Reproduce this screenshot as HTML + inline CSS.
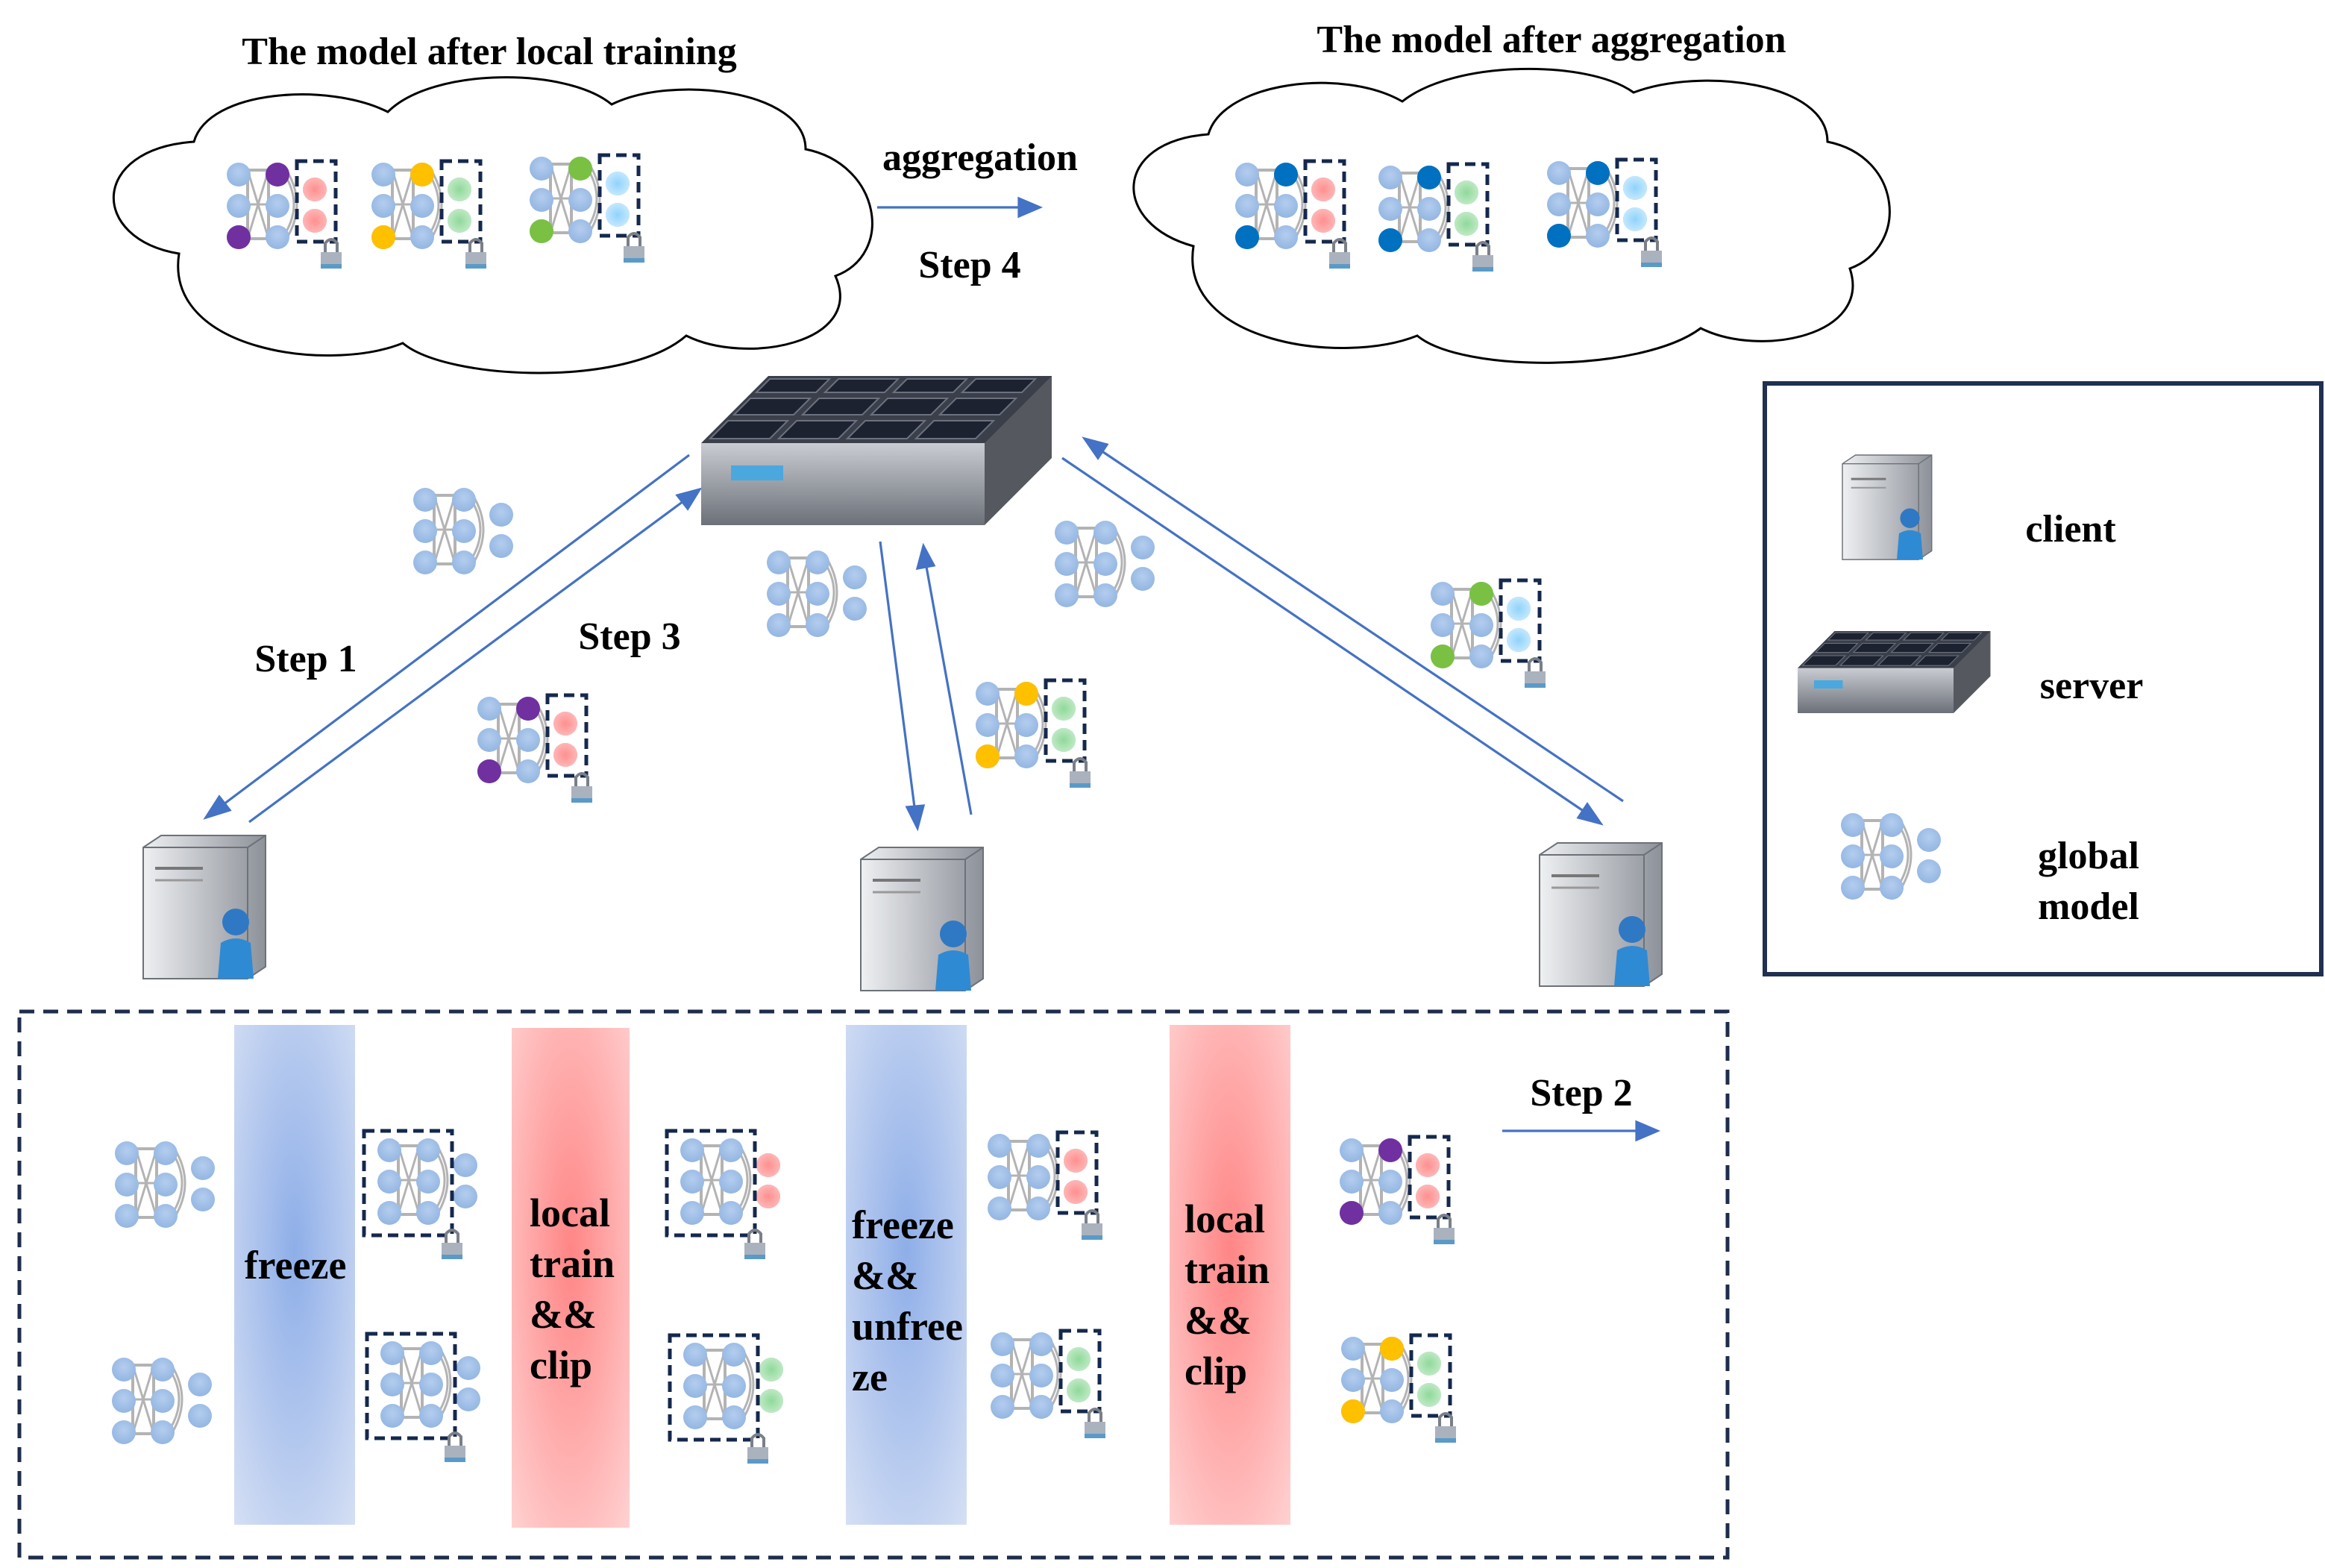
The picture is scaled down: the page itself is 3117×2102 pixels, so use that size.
<!DOCTYPE html>
<html><head><meta charset="utf-8"><style>
html,body{margin:0;padding:0;background:#fff}
svg{display:block}
text{font-family:"Liberation Serif","Times New Roman","DejaVu Serif",serif;font-weight:bold;fill:#000}
</style></head><body>
<svg width="3117" height="2102" viewBox="0 0 1558.5 1051" xmlns="http://www.w3.org/2000/svg">
<defs>
<radialGradient id="nd" cx="50%" cy="40%" r="60%"><stop offset="0" stop-color="#b4cdee"/><stop offset="1" stop-color="#93b6e2"/></radialGradient>
<radialGradient id="pk"><stop offset="0" stop-color="#ff8f8f"/><stop offset="1" stop-color="#ffb6b6"/></radialGradient>
<radialGradient id="gr"><stop offset="0" stop-color="#8fd99a"/><stop offset="1" stop-color="#bfe9c4"/></radialGradient>
<radialGradient id="lb"><stop offset="0" stop-color="#8fd3fb"/><stop offset="1" stop-color="#c4e8fd"/></radialGradient>
<radialGradient id="barB" cx="50%" cy="45%" r="75%"><stop offset="0" stop-color="#8eaee8"/><stop offset="1" stop-color="#d6e0f4"/></radialGradient>
<radialGradient id="barR" cx="50%" cy="45%" r="75%"><stop offset="0" stop-color="#ff8585"/><stop offset="1" stop-color="#ffd2d2"/></radialGradient>
<linearGradient id="srvF" x1="0" y1="0" x2="0" y2="1"><stop offset="0" stop-color="#c9ccd2"/><stop offset="1" stop-color="#6c7078"/></linearGradient>
<linearGradient id="cli" x1="0" y1="0" x2="1" y2="0"><stop offset="0" stop-color="#eef0f2"/><stop offset="1" stop-color="#8d9199"/></linearGradient>
<g id="net">
 <rect x="6" y="-3" width="14" height="46" fill="none" stroke="#b3b3b3" stroke-width="2"/>
 <path d="M6 -3 L20 43 M20 -3 L6 43 M6 20 H20" stroke="#b3b3b3" stroke-width="1.5" fill="none"/>
 <path d="M32 -3 Q46 20 32 43 M32 2 Q42 20 32 38" stroke="#b3b3b3" stroke-width="1.5" fill="none"/>
 <circle cx="0" cy="0" r="8" fill="url(#nd)"/><circle cx="0" cy="21" r="8" fill="url(#nd)"/><circle cx="0" cy="42" r="8" fill="url(#nd)"/>
 <circle cx="26" cy="0" r="8" fill="url(#nd)"/><circle cx="26" cy="21" r="8" fill="url(#nd)"/><circle cx="26" cy="42" r="8" fill="url(#nd)"/>
 <circle cx="51" cy="10" r="8" fill="url(#nd)"/><circle cx="51" cy="31" r="8" fill="url(#nd)"/>
</g>
<g id="lock"><path d="M-4 0 V-6 Q0 -11 4 -6 V0" fill="none" stroke="#7a7f88" stroke-width="2"/><rect x="-7" y="0" width="14" height="11" fill="#aab2bd"/><rect x="-7" y="8" width="14" height="3" fill="#5a9ac8"/></g>
<g id="boxC"><rect x="39" y="-9" width="26" height="54" fill="none" stroke="#15284d" stroke-width="2.5" stroke-dasharray="7,4"/><use href="#lock" x="62" y="52"/></g>
<g id="boxAB"><rect x="-17" y="-13" width="59" height="70" fill="none" stroke="#15284d" stroke-width="2.5" stroke-dasharray="7,4"/><use href="#lock" x="42" y="62"/></g>
<g id="client">
 <path d="M0 8 L12 0 H82 L82 88 L70 96 H0 Z" fill="url(#cli)" stroke="#6d7178"/>
 <path d="M0 8 H70 V96" fill="none" stroke="#6d7178"/>
 <path d="M70 8 L82 0" stroke="#6d7178"/>
 <line x1="8" y1="22" x2="40" y2="22" stroke="#777" stroke-width="2"/>
 <line x1="8" y1="30" x2="40" y2="30" stroke="#999" stroke-width="1.5"/>
 <circle cx="62" cy="58" r="9" fill="#2f78c4"/>
 <path d="M50 96 L52 72 Q62 66 72 72 L74 96 Z" fill="#2f8ad4"/>
</g>
<g id="server">
 <path d="M0 45 L45 0 H235 L235 40 L190 85 H0 Z" fill="#3a3f4a"/>
 <path d="M0 45 H190 V100 H0 Z" fill="url(#srvF)"/>
 <path d="M190 45 L235 0 V55 L190 100 Z" fill="#55595f"/>
 <rect x="20" y="60" width="35" height="10" fill="#4aa8de"/>
 <g fill="#1d2230" stroke="#6b7180" stroke-width="1">
  <path d="M6 42 L18 30 H58 L46 42 Z"/><path d="M52 42 L64 30 H104 L92 42 Z"/><path d="M98 42 L110 30 H150 L138 42 Z"/><path d="M144 42 L156 30 H196 L184 42 Z"/>
  <path d="M22 26 L33 15 H73 L62 26 Z"/><path d="M68 26 L79 15 H119 L108 26 Z"/><path d="M114 26 L125 15 H165 L154 26 Z"/><path d="M160 26 L171 15 H211 L200 26 Z"/>
  <path d="M37 11 L46 2 H86 L77 11 Z"/><path d="M83 11 L92 2 H132 L123 11 Z"/><path d="M129 11 L138 2 H178 L169 11 Z"/><path d="M175 11 L184 2 H224 L215 11 Z"/>
 </g>
</g>
</defs>

<!-- clouds -->
<g fill="#fff" stroke="#000" stroke-width="1.5">
<path d="M120 170 C60 160 60 100 130 95 C140 60 220 55 260 75 C290 45 380 45 410 70 C450 50 540 60 540 100 C590 110 600 170 560 185 C580 230 500 245 460 225 C420 260 300 255 270 230 C220 250 110 235 120 170 Z"/>
<path d="M800 165 C745 150 745 95 810 90 C820 55 900 45 940 68 C975 40 1065 40 1095 62 C1140 45 1225 55 1225 95 C1275 105 1280 165 1240 180 C1255 225 1180 240 1140 220 C1100 250 980 250 950 225 C900 245 790 230 800 165 Z"/>
</g>
<text x="328" y="43" font-size="26" text-anchor="middle">The model after local training</text>
<text x="1040" y="35" font-size="26" text-anchor="middle">The model after aggregation</text>

<!-- top left nets -->
<g transform="translate(160,117)"><use href="#net"/><circle cx="26" cy="0" r="8" fill="#7030a0"/><circle cx="0" cy="42" r="8" fill="#7030a0"/><circle cx="51" cy="10" r="8" fill="url(#pk)"/><circle cx="51" cy="31" r="8" fill="url(#pk)"/><use href="#boxC"/></g>
<g transform="translate(257,117)"><use href="#net"/><circle cx="26" cy="0" r="8" fill="#ffc000"/><circle cx="0" cy="42" r="8" fill="#ffc000"/><circle cx="51" cy="10" r="8" fill="url(#gr)"/><circle cx="51" cy="31" r="8" fill="url(#gr)"/><use href="#boxC"/></g>
<g transform="translate(363,113)"><use href="#net"/><circle cx="26" cy="0" r="8" fill="#7ac143"/><circle cx="0" cy="42" r="8" fill="#7ac143"/><circle cx="51" cy="10" r="8" fill="url(#lb)"/><circle cx="51" cy="31" r="8" fill="url(#lb)"/><use href="#boxC"/></g>
<!-- top right nets -->
<g transform="translate(836,117)"><use href="#net"/><circle cx="26" cy="0" r="8" fill="#0070c0"/><circle cx="0" cy="42" r="8" fill="#0070c0"/><circle cx="51" cy="10" r="8" fill="url(#pk)"/><circle cx="51" cy="31" r="8" fill="url(#pk)"/><use href="#boxC"/></g>
<g transform="translate(932,119)"><use href="#net"/><circle cx="26" cy="0" r="8" fill="#0070c0"/><circle cx="0" cy="42" r="8" fill="#0070c0"/><circle cx="51" cy="10" r="8" fill="url(#gr)"/><circle cx="51" cy="31" r="8" fill="url(#gr)"/><use href="#boxC"/></g>
<g transform="translate(1045,116)"><use href="#net"/><circle cx="26" cy="0" r="8" fill="#0070c0"/><circle cx="0" cy="42" r="8" fill="#0070c0"/><circle cx="51" cy="10" r="8" fill="url(#lb)"/><circle cx="51" cy="31" r="8" fill="url(#lb)"/><use href="#boxC"/></g>

<g stroke="#4472c4" stroke-width="1.6" fill="#4472c4">
<line x1="588" y1="139" x2="685" y2="139"/><path d="M697 139 L683 133 L683 145 Z"/>
<line x1="1007" y1="758" x2="1098" y2="758"/><path d="M1111 758 L1097 752 L1097 764 Z"/>
<line x1="462" y1="305" x2="150" y2="539"/><path d="M138 548 L147 534 L154 543 Z"/>
<line x1="167" y1="551" x2="458" y2="336"/><path d="M469 328 L454 332 L461 341 Z"/>
<line x1="590" y1="363" x2="613" y2="541"/><path d="M615 555 L608 541 L619 540 Z"/>
<line x1="651" y1="546" x2="621" y2="380"/><path d="M619 366 L615 381 L626 379 Z"/>
<line x1="712" y1="307" x2="1062" y2="544"/><path d="M1073 552 L1064 539 L1058 548 Z"/>
<line x1="1088" y1="537" x2="738" y2="302"/><path d="M727 294 L736 307 L742 298 Z"/>
</g>
<text x="657" y="114" font-size="26" text-anchor="middle">aggregation</text>
<text x="650" y="186" font-size="26" text-anchor="middle">Step 4</text>
<text x="205" y="450" font-size="26" text-anchor="middle">Step 1</text>
<text x="422" y="435" font-size="26" text-anchor="middle">Step 3</text>
<text x="1060" y="741" font-size="26" text-anchor="middle">Step 2</text>

<use href="#server" transform="translate(470,252)"/>
<use href="#client" transform="translate(96,560)"/>
<use href="#client" transform="translate(577,568)"/>
<use href="#client" transform="translate(1032,565)"/>

<!-- global models -->
<use href="#net" x="285" y="335"/>
<use href="#net" x="522" y="377"/>
<use href="#net" x="715" y="357"/>
<g transform="translate(328,475)"><use href="#net"/><circle cx="26" cy="0" r="8" fill="#7030a0"/><circle cx="0" cy="42" r="8" fill="#7030a0"/><circle cx="51" cy="10" r="8" fill="url(#pk)"/><circle cx="51" cy="31" r="8" fill="url(#pk)"/><use href="#boxC"/></g>
<g transform="translate(662,465)"><use href="#net"/><circle cx="26" cy="0" r="8" fill="#ffc000"/><circle cx="0" cy="42" r="8" fill="#ffc000"/><circle cx="51" cy="10" r="8" fill="url(#gr)"/><circle cx="51" cy="31" r="8" fill="url(#gr)"/><use href="#boxC"/></g>
<g transform="translate(967,398)"><use href="#net"/><circle cx="26" cy="0" r="8" fill="#7ac143"/><circle cx="0" cy="42" r="8" fill="#7ac143"/><circle cx="51" cy="10" r="8" fill="url(#lb)"/><circle cx="51" cy="31" r="8" fill="url(#lb)"/><use href="#boxC"/></g>

<!-- legend -->
<rect x="1183" y="257" width="373" height="396" fill="none" stroke="#1f3050" stroke-width="3"/>
<use href="#client" transform="translate(1235,305) scale(0.73)"/>
<use href="#server" transform="translate(1205,423) scale(0.55)"/>
<use href="#net" x="1242" y="553"/>
<text x="1388" y="363" font-size="26" text-anchor="middle">client</text>
<text x="1402" y="468" font-size="26" text-anchor="middle">server</text>
<text x="1400" y="582" font-size="26" text-anchor="middle">global</text>
<text x="1400" y="616" font-size="26" text-anchor="middle">model</text>

<!-- bottom -->
<rect x="13" y="678" width="1145" height="366" fill="none" stroke="#1f2d4d" stroke-width="2.5" stroke-dasharray="10,6"/>
<rect x="157" y="687" width="81" height="335" fill="url(#barB)"/>
<rect x="343" y="689" width="79" height="335" fill="url(#barR)"/>
<rect x="567" y="687" width="81" height="335" fill="url(#barB)"/>
<rect x="784" y="687" width="81" height="335" fill="url(#barR)"/>
<text x="198" y="857" font-size="27" text-anchor="middle">freeze</text>
<g font-size="27"><text x="355" y="822">local</text><text x="355" y="856">train</text><text x="355" y="890">&amp;&amp;</text><text x="355" y="924">clip</text></g>
<g font-size="27"><text x="571" y="830">freeze</text><text x="571" y="864">&amp;&amp;</text><text x="571" y="898">unfree</text><text x="571" y="932">ze</text></g>
<g font-size="27"><text x="794" y="826">local</text><text x="794" y="860">train</text><text x="794" y="894">&amp;&amp;</text><text x="794" y="928">clip</text></g>

<use href="#net" x="85" y="773"/>
<use href="#net" x="83" y="918"/>
<g transform="translate(261,771)"><use href="#net"/><use href="#boxAB"/></g>
<g transform="translate(263,907)"><use href="#net"/><use href="#boxAB"/></g>
<g transform="translate(464,771)"><use href="#net"/><circle cx="51" cy="10" r="8" fill="url(#pk)"/><circle cx="51" cy="31" r="8" fill="url(#pk)"/><use href="#boxAB"/></g>
<g transform="translate(466,908)"><use href="#net"/><circle cx="51" cy="10" r="8" fill="url(#gr)"/><circle cx="51" cy="31" r="8" fill="url(#gr)"/><use href="#boxAB"/></g>
<g transform="translate(670,768)"><use href="#net"/><circle cx="51" cy="10" r="8" fill="url(#pk)"/><circle cx="51" cy="31" r="8" fill="url(#pk)"/><use href="#boxC"/></g>
<g transform="translate(672,901)"><use href="#net"/><circle cx="51" cy="10" r="8" fill="url(#gr)"/><circle cx="51" cy="31" r="8" fill="url(#gr)"/><use href="#boxC"/></g>
<g transform="translate(906,771)"><use href="#net"/><circle cx="26" cy="0" r="8" fill="#7030a0"/><circle cx="0" cy="42" r="8" fill="#7030a0"/><circle cx="51" cy="10" r="8" fill="url(#pk)"/><circle cx="51" cy="31" r="8" fill="url(#pk)"/><use href="#boxC"/></g>
<g transform="translate(907,904)"><use href="#net"/><circle cx="26" cy="0" r="8" fill="#ffc000"/><circle cx="0" cy="42" r="8" fill="#ffc000"/><circle cx="51" cy="10" r="8" fill="url(#gr)"/><circle cx="51" cy="31" r="8" fill="url(#gr)"/><use href="#boxC"/></g>
</svg>
</body></html>
